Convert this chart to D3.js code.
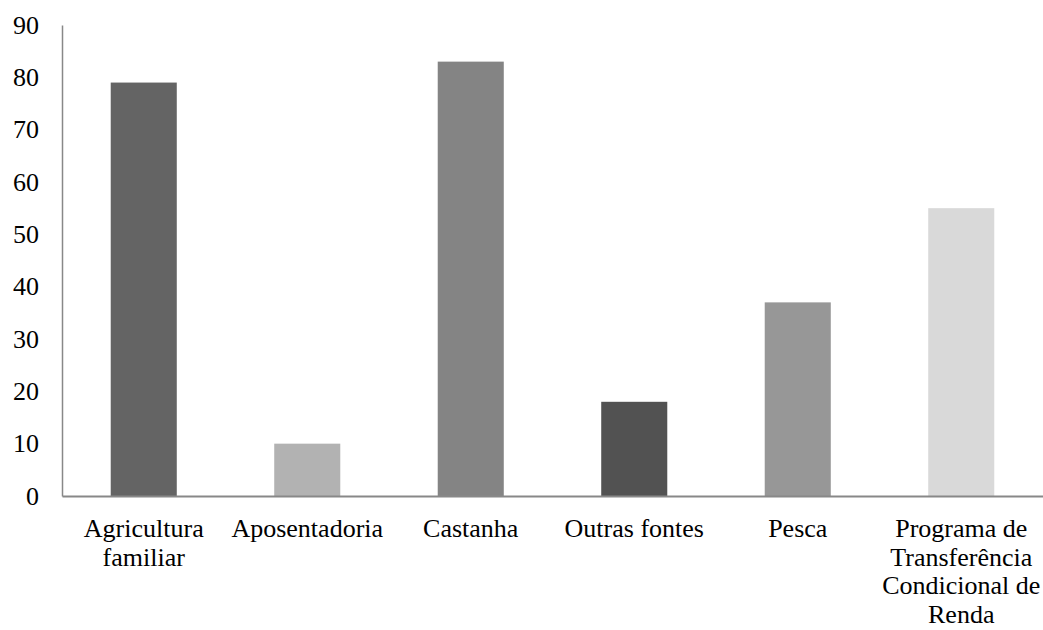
<!DOCTYPE html>
<html>
<head>
<meta charset="utf-8">
<script src="https://cdn.jsdelivr.net/npm/d3@7"></script>
<style>
  html, body { margin: 0; padding: 0; background: #fff; }
  svg { display: block; }
  text { font-family: "Liberation Serif", "Times New Roman", serif; fill: #000; }
</style>
</head>
<body>
<svg id="chart" width="1043" height="630"></svg>
<script>
// Income sources and their counts
const categories = ["Agricultura familiar", "Aposentadoria", "Castanha", "Outras fontes", "Pesca", "Programa de Transferência Condicional de Renda"];
const values = [79, 10, 83, 18, 37, 55];
const barColors = ["#646464", "#b2b2b2", "#848484", "#525252", "#979797", "#d9d9d9"];
// Wrapped category labels, one entry per line
const labelLines = [
  ["Agricultura", "familiar"],
  ["Aposentadoria"],
  ["Castanha"],
  ["Outras fontes"],
  ["Pesca"],
  ["Programa de", "Transferência", "Condicional de", "Renda"]
];
const yTicks = [0, 10, 20, 30, 40, 50, 60, 70, 80, 90];

const svg = d3.select("#chart");
const plotLeft = 62, plotRight = 1043, plotTop = 25, plotBottom = 496;
const fontSize = 26;

const x = d3.scaleBand().domain(categories).range([plotLeft, plotRight]).paddingInner(0.596).paddingOuter(0.298);
const y = d3.scaleLinear().domain([0, 90]).range([plotBottom, plotTop]);

// Bars
svg.append("g").selectAll("rect").data(categories).join("rect")
  .attr("x", d => x(d))
  .attr("width", x.bandwidth())
  .attr("y", (d, i) => y(values[i]))
  .attr("height", (d, i) => y(0) - y(values[i]))
  .attr("fill", (d, i) => barColors[i]);

// Y axis
const yAxis = d3.axisLeft(y).tickValues(yTicks).tickSize(0).tickPadding(23).tickFormat(d3.format("d"));
const gy = svg.append("g").attr("transform", `translate(${plotLeft},0)`).call(yAxis);
gy.attr("font-size", fontSize).attr("font-family", null);
gy.select(".domain").attr("stroke", "#888").attr("stroke-width", 1.5);
gy.selectAll("text").attr("fill", "#000");

// X axis
const xAxis = d3.axisBottom(x).tickSize(0).tickFormat("");
const gx = svg.append("g").attr("transform", `translate(0,${plotBottom})`).call(xAxis);
gx.select(".domain").attr("stroke", "#888").attr("stroke-width", 2);

// Multi-line category labels
const labels = svg.append("g").selectAll("text").data(categories).join("text")
  .attr("text-anchor", "middle")
  .attr("font-size", fontSize)
  .attr("x", d => x(d) + x.bandwidth() / 2)
  .attr("y", plotBottom + 41);
labels.selectAll("tspan").data((d, i) => labelLines[i]).join("tspan")
  .attr("x", function() { return this.parentNode.getAttribute("x"); })
  .attr("dy", (d, j) => j === 0 ? 0 : 28.5)
  .text(d => d);
</script>
</body>
</html>
